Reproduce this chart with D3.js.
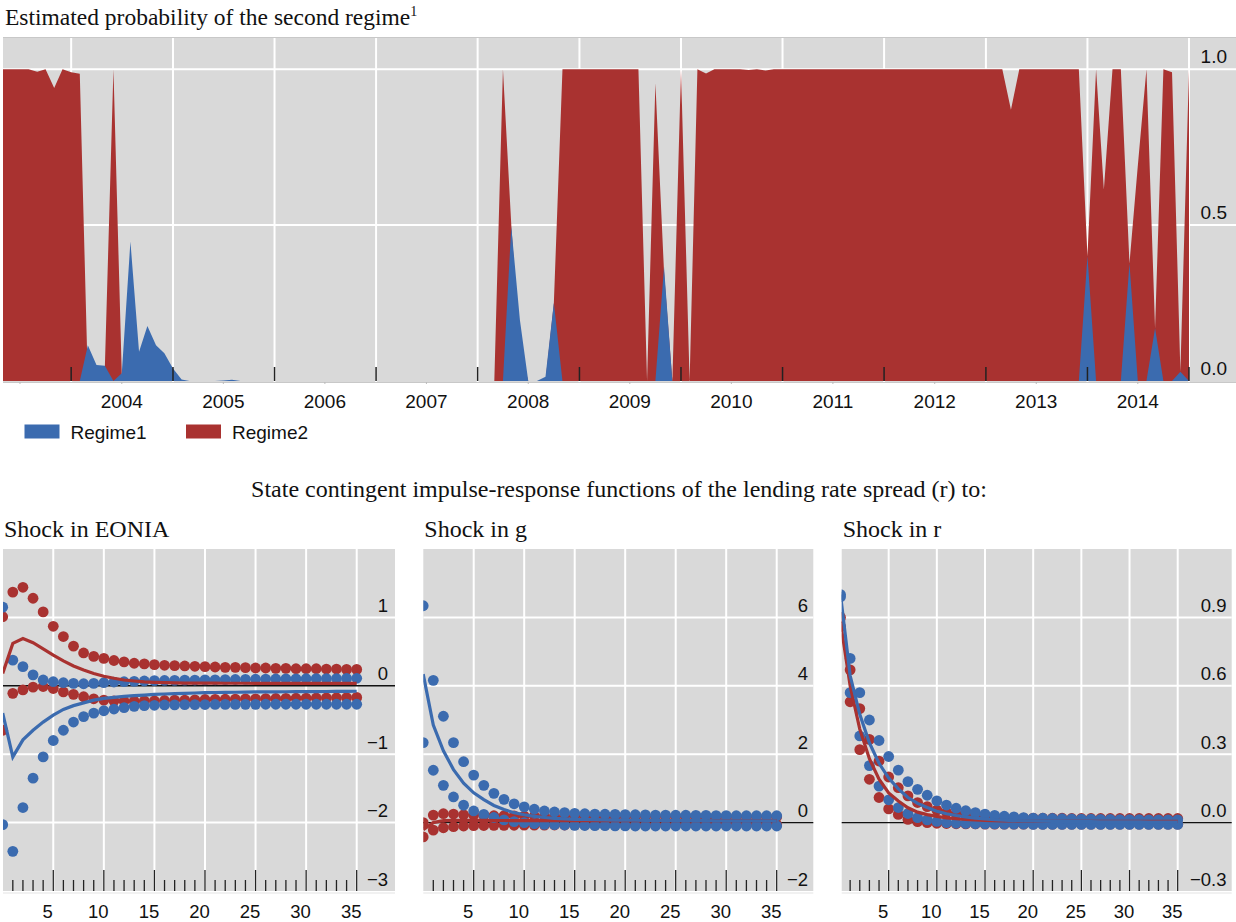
<!DOCTYPE html>
<html><head><meta charset="utf-8">
<script src="https://cdn.jsdelivr.net/npm/d3@7"></script>
<style>
body{margin:0;background:#fff;}
svg{display:block;}
</style></head><body>
<svg id="chart" width="1236" height="922"></svg>
<script>
// ---------- DATA ----------
const startMonth = new Date(2003, 4, 1); // May 2003, monthly observations
const regime1 = [
  0,0,0,0,0,0,0,0,0,0,
  0.115,0.051,0.049,0,0.025,0.447,0.094,0.176,0.115,0.089,
  0.04,0.005,0,0,0,0,0.002,0.004,0,0,
  0,0,0,0,0,0,0,0,0,0,
  0,0,0,0,0,0,0,0,0,0,
  0,0,0,0,0,0,0,0,0,0,
  0.495,0.196,0,0,0.014,0.25,0,0,0,0,
  0,0,0,0,0,0,0,0,0.366,0,
  0,0,0,0,0,0,0,0,0,0,
  0,0,0,0,0,0,0,0,0,0,
  0,0,0,0,0,0,0,0,0,0,
  0,0,0,0,0,0,0,0,0,0,
  0,0,0,0,0,0,0,0,0.4,0,
  0,0,0,0.377,0,0,0.169,0,0,0.03,
  0
];
const regime2 = [
  1,1,1,1,0.992,1,0.94,1,0.99,0.985,
  0,0,0.04,1,0.02,0,0,0,0,0,
  0,0,0,0,0,0,0,0,0,0,
  0,0,0,0,0,0,0,0,0,0,
  0,0,0,0,0,0,0,0,0,0,
  0,0,0,0,0,0,0,0,0,1,
  0.5,0.1,0,0,0,0.25,1,1,1,1,
  1,1,1,1,1,1,0,0.955,0.35,0,
  1,0,1,0.986,1,1,1,1,0.997,1,
  0.996,1,1,1,1,1,1,1,1,1,
  1,1,1,1,1,1,1,1,1,1,
  1,1,1,1,1,1,1,1,1,0.87,
  1,1,1,1,1,1,1,1,0.4,1,
  0.614,1,1,0.377,0.69,1,0.169,1,0.99,0.03,
  1
];
const yearLabels = [2004,2005,2006,2007,2008,2009,2010,2011,2012,2013,2014];
const probTicks = [0, 0.5, 1.0];

const horizonTicks = [5,10,15,20,25,30,35];

// Shock in EONIA
const eoniaR1Upper = [1.15,0.375,0.28,0.16,0.085,0.06,0.045,0.035,0.03,0.035,0.045,0.055,0.06,0.065,0.07,0.075,0.078,0.08,0.082,0.084,0.086,0.088,0.09,0.092,0.094,0.096,0.098,0.1,0.101,0.102,0.103,0.104,0.105,0.106,0.108,0.11];
const eoniaR1Mid   = [-0.40,-1.04,-0.79,-0.65,-0.53,-0.43,-0.345,-0.29,-0.25,-0.21,-0.185,-0.17,-0.155,-0.145,-0.135,-0.125,-0.12,-0.115,-0.11,-0.105,-0.1,-0.098,-0.096,-0.094,-0.092,-0.09,-0.089,-0.088,-0.087,-0.086,-0.085,-0.084,-0.083,-0.082,-0.081,-0.08];
const eoniaR1Lower = [-2.03,-2.42,-1.78,-1.35,-1.04,-0.80,-0.65,-0.53,-0.45,-0.40,-0.365,-0.34,-0.32,-0.30,-0.29,-0.285,-0.28,-0.278,-0.276,-0.275,-0.274,-0.273,-0.272,-0.272,-0.271,-0.271,-0.27,-0.27,-0.27,-0.27,-0.27,-0.27,-0.27,-0.27,-0.27,-0.27];
const eoniaR2Upper = [1.01,1.37,1.44,1.28,1.08,0.87,0.72,0.58,0.48,0.43,0.40,0.37,0.35,0.33,0.32,0.31,0.30,0.295,0.29,0.285,0.28,0.275,0.27,0.27,0.265,0.26,0.26,0.255,0.255,0.25,0.25,0.25,0.245,0.245,0.24,0.24];
const eoniaR2Mid   = [0.18,0.62,0.69,0.63,0.54,0.45,0.365,0.29,0.23,0.18,0.14,0.11,0.085,0.07,0.058,0.05,0.045,0.042,0.04,0.039,0.038,0.038,0.037,0.037,0.037,0.036,0.036,0.036,0.036,0.035,0.035,0.035,0.035,0.035,0.035,0.035];
const eoniaR2Lower = [-0.65,-0.11,-0.06,-0.02,-0.01,-0.04,-0.09,-0.125,-0.16,-0.19,-0.21,-0.22,-0.225,-0.225,-0.22,-0.22,-0.215,-0.21,-0.21,-0.205,-0.2,-0.198,-0.196,-0.194,-0.192,-0.19,-0.188,-0.186,-0.184,-0.182,-0.18,-0.178,-0.176,-0.174,-0.172,-0.17];

// Shock in g
const gR1Upper = [6.34,4.16,3.11,2.34,1.78,1.39,1.09,0.855,0.68,0.55,0.46,0.39,0.34,0.31,0.29,0.27,0.26,0.25,0.245,0.24,0.235,0.23,0.225,0.22,0.22,0.215,0.215,0.21,0.21,0.205,0.205,0.2,0.2,0.2,0.2,0.2];
const gR1Mid   = [4.34,2.85,2.10,1.55,1.15,0.87,0.67,0.50,0.38,0.29,0.23,0.18,0.15,0.125,0.11,0.095,0.09,0.085,0.08,0.075,0.07,0.068,0.066,0.064,0.062,0.06,0.058,0.056,0.055,0.054,0.053,0.052,0.051,0.05,0.05,0.05];
const gR1Lower = [2.34,1.53,1.09,0.75,0.51,0.34,0.24,0.15,0.08,0.03,0.0,-0.03,-0.05,-0.06,-0.07,-0.08,-0.085,-0.09,-0.09,-0.095,-0.095,-0.1,-0.1,-0.1,-0.1,-0.1,-0.1,-0.1,-0.1,-0.1,-0.1,-0.1,-0.1,-0.1,-0.1,-0.1];
const gR2Upper = [0.0,0.22,0.26,0.25,0.23,0.22,0.21,0.2,0.2,0.195,0.19,0.19,0.19,0.185,0.185,0.185,0.18,0.18,0.18,0.18,0.18,0.18,0.175,0.175,0.175,0.175,0.175,0.175,0.17,0.17,0.17,0.17,0.17,0.17,0.17,0.17];
const gR2Mid   = [-0.21,0.0,0.055,0.065,0.065,0.065,0.063,0.062,0.061,0.06,0.06,0.06,0.059,0.058,0.058,0.057,0.057,0.056,0.056,0.056,0.055,0.055,0.055,0.055,0.055,0.055,0.055,0.055,0.055,0.055,0.055,0.055,0.055,0.055,0.055,0.055];
const gR2Lower = [-0.42,-0.22,-0.15,-0.12,-0.1,-0.09,-0.085,-0.08,-0.08,-0.078,-0.076,-0.074,-0.072,-0.07,-0.07,-0.068,-0.068,-0.066,-0.066,-0.065,-0.065,-0.064,-0.064,-0.063,-0.063,-0.062,-0.062,-0.062,-0.061,-0.061,-0.06,-0.06,-0.06,-0.06,-0.06,-0.06];

// Shock in r
const rR1Upper = [1.0,0.72,0.57,0.45,0.36,0.29,0.23,0.18,0.146,0.12,0.095,0.077,0.063,0.052,0.044,0.037,0.032,0.028,0.025,0.022,0.02,0.019,0.018,0.017,0.016,0.015,0.015,0.014,0.014,0.013,0.013,0.013,0.012,0.012,0.012,0.012];
const rR1Mid   = [1.0,0.645,0.475,0.35,0.26,0.195,0.148,0.11,0.084,0.066,0.05,0.039,0.031,0.025,0.02,0.016,0.013,0.011,0.009,0.008,0.007,0.006,0.005,0.005,0.004,0.004,0.004,0.003,0.003,0.003,0.003,0.003,0.002,0.002,0.002,0.002];
const rR1Lower = [0.99,0.57,0.38,0.25,0.16,0.10,0.066,0.04,0.022,0.012,0.005,0.0,-0.003,-0.004,-0.005,-0.006,-0.006,-0.007,-0.007,-0.007,-0.008,-0.008,-0.008,-0.008,-0.008,-0.008,-0.008,-0.008,-0.008,-0.008,-0.008,-0.008,-0.008,-0.008,-0.008,-0.008];
const rR2Upper = [0.9,0.67,0.50,0.365,0.27,0.20,0.153,0.117,0.088,0.07,0.055,0.045,0.038,0.033,0.029,0.026,0.024,0.022,0.021,0.02,0.02,0.019,0.019,0.019,0.018,0.018,0.018,0.018,0.018,0.018,0.018,0.018,0.018,0.018,0.018,0.018];
const rR2Mid   = [0.88,0.60,0.41,0.28,0.19,0.13,0.095,0.065,0.046,0.035,0.027,0.021,0.017,0.014,0.012,0.01,0.009,0.008,0.007,0.006,0.006,0.006,0.005,0.005,0.005,0.005,0.005,0.005,0.005,0.005,0.005,0.005,0.005,0.005,0.005,0.005];
const rR2Lower = [0.86,0.53,0.32,0.19,0.11,0.06,0.036,0.014,0.004,0.0,-0.003,-0.004,-0.005,-0.006,-0.006,-0.007,-0.007,-0.007,-0.007,-0.007,-0.007,-0.007,-0.007,-0.007,-0.007,-0.007,-0.007,-0.007,-0.007,-0.007,-0.007,-0.007,-0.007,-0.007,-0.007,-0.007];

// ---------- STYLE ----------
const RED = "#a93230", BLUE = "#3b6baf", BG = "#d9d9d9";
const SERIF = "'Liberation Serif','Times New Roman',serif";
const SANS = "'Liberation Sans',Arial,sans-serif";
const minus = s => s.replace(/-/g, "\u2212");

const svg = d3.select("#chart");

// ---------- TOP CHART ----------
{
  const L = 3, R = 1236, T = 38, B = 382;
  const x = d3.scaleTime().domain([startMonth, new Date(2015, 0, 1)]).range([3, 1189]);
  const y = d3.scaleLinear().domain([0, 1.1]).range([381, T]);
  const dates = regime2.map((_, i) => d3.timeMonth.offset(startMonth, i));

  svg.append("text").attr("x", 5).attr("y", 25)
    .style("font-family", SERIF).style("font-size", "23.5px").attr("fill", "#111")
    .text("Estimated probability of the second regime")
    .append("tspan").attr("dy", -9).style("font-size", "14px").text("1");

  svg.append("rect").attr("x", L).attr("y", T).attr("width", R - L).attr("height", B - T).attr("fill", BG);
  svg.append("line").attr("x1", L).attr("x2", R).attr("y1", T - 0.5).attr("y2", T - 0.5).attr("stroke", "#c8c8c8");
  svg.append("line").attr("x1", L).attr("x2", R).attr("y1", B + 0.5).attr("y2", B + 0.5).attr("stroke", "#c8c8c8");

  const yearStarts = d3.timeYear.range(new Date(2004, 0, 1), new Date(2015, 0, 2));
  svg.append("g").selectAll("line").data(yearStarts).join("line")
    .attr("x1", d => x(d)).attr("x2", d => x(d)).attr("y1", T).attr("y2", B)
    .attr("stroke", "#fff").attr("stroke-width", 2);
  svg.append("g").selectAll("line").data(probTicks.filter(d => d > 0)).join("line")
    .attr("x1", L).attr("x2", R).attr("y1", d => y(d)).attr("y2", d => y(d))
    .attr("stroke", "#fff").attr("stroke-width", 2);

  const area = (vals) => d3.area().x((d, i) => x(dates[i])).y0(y(0)).y1(d => y(d))(vals);
  svg.append("path").attr("d", area(regime2)).attr("fill", RED);
  svg.append("path").attr("d", area(regime1)).attr("fill", BLUE);

  svg.append("g").selectAll("line").data(yearStarts).join("line")
    .attr("x1", d => x(d)).attr("x2", d => x(d)).attr("y1", 367).attr("y2", 381)
    .attr("stroke", "#222").attr("stroke-width", 1.5);
  const midYears = [2003, ...yearLabels].map(yr => new Date(yr, 6, 1));
  svg.append("g").selectAll("line").data(midYears).join("line")
    .attr("x1", d => x(d)).attr("x2", d => x(d)).attr("y1", B).attr("y2", B + 2)
    .attr("stroke", "#bbb").attr("stroke-width", 1);

  svg.append("g").selectAll("text").data(yearLabels).join("text")
    .attr("x", d => x(new Date(d, 6, 1))).attr("y", 408).attr("text-anchor", "middle")
    .style("font-family", SANS).style("font-size", "19px").attr("fill", "#111")
    .text(d => d);

  svg.append("g").selectAll("text").data(probTicks).join("text")
    .attr("x", 1227).attr("y", d => y(d) - 6).attr("text-anchor", "end")
    .style("font-family", SANS).style("font-size", "19px").attr("fill", "#111")
    .text(d => d3.format(".1f")(d));

  // legend
  const leg = [{name: "Regime1", c: BLUE, x: 24.5}, {name: "Regime2", c: RED, x: 186}];
  const lg = svg.append("g");
  lg.selectAll("rect").data(leg).join("rect")
    .attr("x", d => d.x).attr("y", 424.5).attr("width", 35).attr("height", 14).attr("fill", d => d.c);
  lg.selectAll("text").data(leg).join("text")
    .attr("x", d => d.x + 46).attr("y", 438.5)
    .style("font-family", SANS).style("font-size", "19px").attr("fill", "#111")
    .text(d => d.name);
}

// ---------- MIDDLE TITLE ----------
svg.append("text").attr("x", 619).attr("y", 497).attr("text-anchor", "middle")
  .style("font-family", SERIF).style("font-size", "24px").attr("fill", "#111")
  .text("State contingent impulse-response functions of the lending rate spread (r) to:");

// ---------- IRF PANELS ----------
const panels = [
  {title: "Shock in EONIA", left: 3, right: 395, x0: 2.7, x35: 356.7, labelRight: 388,
   yDomain: [-3, 2], yTicks: [-3, -2, -1, 0, 1], fmt: d3.format("d"),
   r1: [eoniaR1Lower, eoniaR1Mid, eoniaR1Upper], r2: [eoniaR2Lower, eoniaR2Mid, eoniaR2Upper]},
  {title: "Shock in g", left: 423.3, right: 813.3, x0: 423.2, x35: 776.7, labelRight: 808,
   yDomain: [-2, 8], yTicks: [-2, 0, 2, 4, 6], fmt: d3.format("d"),
   r1: [gR1Lower, gR1Mid, gR1Upper], r2: [gR2Lower, gR2Mid, gR2Upper]},
  {title: "Shock in r", left: 841.7, right: 1231.7, x0: 840.5, x35: 1177.7, labelRight: 1226.5,
   yDomain: [-0.3, 1.2], yTicks: [-0.3, 0, 0.3, 0.6, 0.9], fmt: d3.format(".1f"),
   r1: [rR1Lower, rR1Mid, rR1Upper], r2: [rR2Lower, rR2Mid, rR2Upper]}
];
const PT = 549, PB = 891;

panels.forEach((p, pi) => {
  const g = svg.append("g");
  const x = d3.scaleLinear().domain([0, 35]).range([p.x0, p.x35]);
  const y = d3.scaleLinear().domain(p.yDomain).range([PB, PT]);

  g.append("text").attr("x", p.left + 1).attr("y", 537)
    .style("font-family", SERIF).style("font-size", "24px").attr("fill", "#111").text(p.title);

  const clipId = "clip" + pi;
  svg.append("clipPath").attr("id", clipId).append("rect")
    .attr("x", p.left).attr("y", PT).attr("width", p.right - p.left).attr("height", PB - PT);

  g.append("rect").attr("x", p.left).attr("y", PT).attr("width", p.right - p.left).attr("height", PB - PT).attr("fill", BG);
  g.append("line").attr("x1", p.left).attr("x2", p.right).attr("y1", PB + 2).attr("y2", PB + 2).attr("stroke", "#e3e3e3");

  g.append("g").selectAll("line").data(horizonTicks).join("line")
    .attr("x1", d => x(d)).attr("x2", d => x(d)).attr("y1", PT).attr("y2", PB)
    .attr("stroke", "#fff").attr("stroke-width", 2);
  g.append("g").selectAll("line").data(p.yTicks.filter(d => d !== 0 && d > p.yDomain[0])).join("line")
    .attr("x1", p.left).attr("x2", p.right).attr("y1", d => y(d)).attr("y2", d => y(d))
    .attr("stroke", "#fff").attr("stroke-width", 2);
  g.append("line").attr("x1", p.left).attr("x2", p.right).attr("y1", y(0)).attr("y2", y(0))
    .attr("stroke", "#111").attr("stroke-width", 1.4);

  const plot = g.append("g").attr("clip-path", `url(#${clipId})`);
  const dots = (arr, color) => plot.append("g").selectAll("circle").data(arr).join("circle")
    .attr("cx", (d, i) => x(i)).attr("cy", d => y(d)).attr("r", 5.4).attr("fill", color);
  dots(p.r2[0], RED); dots(p.r2[2], RED);
  dots(p.r1[0], BLUE); dots(p.r1[2], BLUE);
  const line = d3.line().x((d, i) => x(i)).y(d => y(d));
  plot.append("path").attr("d", line(p.r2[1])).attr("fill", "none").attr("stroke", RED).attr("stroke-width", 3.2);
  plot.append("path").attr("d", line(p.r1[1])).attr("fill", "none").attr("stroke", BLUE).attr("stroke-width", 3.2);

  // x ticks
  const allTicks = d3.range(1, 36);
  g.append("g").selectAll("line").data(allTicks).join("line")
    .attr("x1", d => x(d)).attr("x2", d => x(d))
    .attr("y1", d => d % 5 === 0 ? 870 : 880).attr("y2", PB)
    .attr("stroke", "#222").attr("stroke-width", 1.3);
  g.append("g").selectAll("text").data(horizonTicks).join("text")
    .attr("x", d => x(d) - 5.5).attr("y", 918).attr("text-anchor", "middle")
    .style("font-family", SANS).style("font-size", "18.5px").attr("fill", "#111").text(d => d);

  g.append("g").selectAll("text").data(p.yTicks).join("text")
    .attr("x", p.labelRight).attr("y", d => y(d) - 5.5).attr("text-anchor", "end")
    .style("font-family", SANS).style("font-size", "18.5px").attr("fill", "#111")
    .text(d => minus(p.fmt(d)));
});
</script>
</body></html>
